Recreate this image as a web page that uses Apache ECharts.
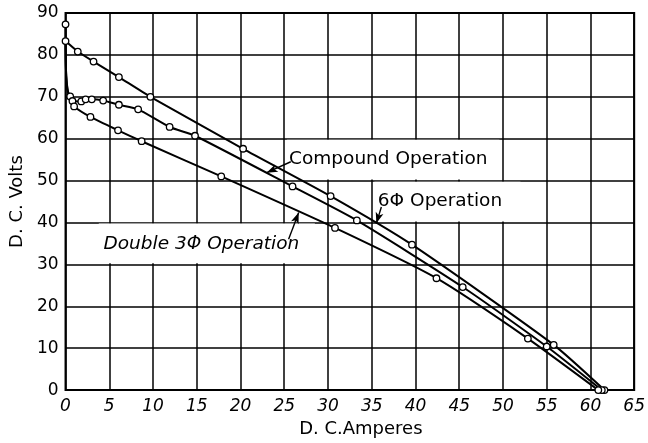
<!DOCTYPE html>
<html>
<head>
<meta charset="utf-8">
<script src="https://cdn.jsdelivr.net/npm/echarts@6/dist/echarts.min.js"></script>
<style>
  html, body { margin: 0; padding: 0; background: #fff; }
  #chart { width: 648px; height: 443px; }
</style>
</head>
<body>
<div id="chart"></div>
<script>
// Axis ticks
const ampTicks = [0, 5, 10, 15, 20, 25, 30, 35, 40, 45, 50, 55, 60, 65];
const voltTicks = [0, 10, 20, 30, 40, 50, 60, 70, 80, 90];

// 6-phase operation: D.C. amperes / D.C. volts along the curve (1 = test point)
const sixPhaseAmps  = [0,    1.4,  3.2,  6.1,  9.7,  20.3, 30.3, 39.6, 55.8, 61.6];
const sixPhaseVolts = [83.3, 80.8, 78.4, 74.7, 70.0, 57.6, 46.3, 34.7, 10.8, 0];
const sixPhasePts   = [1,    1,    1,    1,    1,    1,    1,    1,    1,    1];

// Compound operation
const compoundAmps  = [0,    0,    0.02, 0.08, 0.2,  0.35, 0.53, 0.79, 1.8,  2.3,  3.0,  4.3,  6.1,  8.3,  11.9, 14.8, 25.95, 33.3, 45.4, 55.0, 61.3];
const compoundVolts = [87.3, 83.3, 79.0, 75.0, 72.0, 70.8, 70.1, 69.0, 68.9, 69.4, 69.4, 69.1, 68.1, 67.0, 62.8, 60.7, 48.6,  40.5, 24.6, 10.4, 0];
const compoundPts   = [1,    0,    0,    0,    0,    0,    1,    1,    1,    1,    1,    1,    1,    1,    1,    1,    1,     1,    1,    1,    1];

// Double 3-phase operation
const doubleAmps  = [0,    0.02, 0.08, 0.25, 0.5,  0.98, 2.85, 6.0,  8.7,  17.8, 30.8, 42.4, 52.85, 60.9];
const doubleVolts = [83.3, 79.0, 75.0, 71.5, 69.3, 67.7, 65.2, 62.0, 59.4, 51.0, 38.7, 26.7, 12.3,  0];
const doublePts   = [0,    0,    0,    0,    0,    1,    1,    1,    1,    1,    1,    1,    1,     1];

// Curve captions: [amps, volts] of the caption's left end, and leader arrows tail -> tip
const captionTexts = ['Compound Operation', '6\u03A6 Operation', 'Double 3\u03A6 Operation'];
const captionAt    = [[25.55, 55.2], [35.7, 45.1], [4.34, 34.85]];
const arrowTails   = [[25.75, 54.5], [36.1, 43.7], [25.5, 36.0]];
const arrowTips    = [[22.99, 51.9], [35.53, 39.8], [26.65, 42.4]];
// Lettering panels that break the grid: [ampsFrom, voltsFrom, ampsTo, voltsTo]
const letterPanels = [[25.3, 50.25, 49.6, 59.75], [35.3, 40.25, 52.0, 49.75], [3.8, 30.25, 28.5, 39.75]];

const FONT = 'DejaVu Sans';

function curve(name, xs, ys, pts, extra) {
  return Object.assign({
    type: 'line',
    name: name,
    smooth: 0.2,
    clip: false,
    showAllSymbol: true,
    symbolSize: 6.5,
    data: xs.map((x, i) => ({ value: [x, ys[i]], symbol: pts[i] ? 'circle' : 'none' })),
    lineStyle: { color: '#000', width: 2 },
    itemStyle: { color: '#fff', borderColor: '#000', borderWidth: 1.3 },
    emphasis: { disabled: true }
  }, extra || {});
}

const chart = echarts.init(document.getElementById('chart'), null, { renderer: 'canvas' });

const option = {
  animation: false,
  backgroundColor: '#fff',
  grid: { left: 57, top: 13, right: 12, bottom: 46, show: true, borderColor: '#000', borderWidth: 2, backgroundColor: 'transparent' },
  xAxis: {
    type: 'value', min: ampTicks[0], max: ampTicks[ampTicks.length - 1], interval: 5,
    axisLine: { show: false }, axisTick: { show: false },
    splitLine: { show: true, lineStyle: { color: '#000', width: 1.5 } },
    axisLabel: { color: '#000', fontFamily: FONT, fontSize: 17, fontStyle: 'italic', margin: 8 },
    name: 'D. C.Amperes', nameLocation: 'middle', nameGap: 27,
    nameTextStyle: { color: '#000', fontFamily: FONT, fontSize: 18, padding: [0, 0, 0, 22] }
  },
  yAxis: {
    type: 'value', min: voltTicks[0], max: voltTicks[voltTicks.length - 1], interval: 10,
    axisLine: { show: false }, axisTick: { show: false },
    splitLine: { show: true, lineStyle: { color: '#000', width: 1.5 } },
    axisLabel: { color: '#000', fontFamily: FONT, fontSize: 17, margin: 7 },
    name: 'D. C. Volts', nameLocation: 'middle', nameGap: 34, nameRotate: 90,
    nameTextStyle: { color: '#000', fontFamily: FONT, fontSize: 18 }
  },
  series: [
    curve('6\u03A6 Operation', sixPhaseAmps, sixPhaseVolts, sixPhasePts, {
      markArea: {
        silent: true,
        itemStyle: { color: '#fff' },
        data: letterPanels.map(p => [{ coord: [p[0], p[1]] }, { coord: [p[2], p[3]] }])
      },
      markLine: {
        silent: true,
        symbol: ['none', 'arrow'],
        symbolSize: [6, 11],
        label: { show: false },
        lineStyle: { color: '#000', width: 1.4, type: 'solid' },
        data: arrowTails.map((t, i) => [{ coord: t }, { coord: arrowTips[i] }])
      },
      markPoint: {
        silent: true,
        symbol: 'circle', symbolSize: 0,
        data: captionTexts.map((t, i) => ({
          coord: captionAt[i],
          label: {
            show: true, formatter: t, position: 'right', distance: 0,
            color: '#000', fontFamily: FONT, fontSize: 18.5,
            fontStyle: i === 2 ? 'italic' : 'normal'
          }
        }))
      }
    }),
    curve('Compound Operation', compoundAmps, compoundVolts, compoundPts),
    curve('Double 3\u03A6 Operation', doubleAmps, doubleVolts, doublePts)
  ]
};

chart.setOption(option);
</script>
</body>
</html>
